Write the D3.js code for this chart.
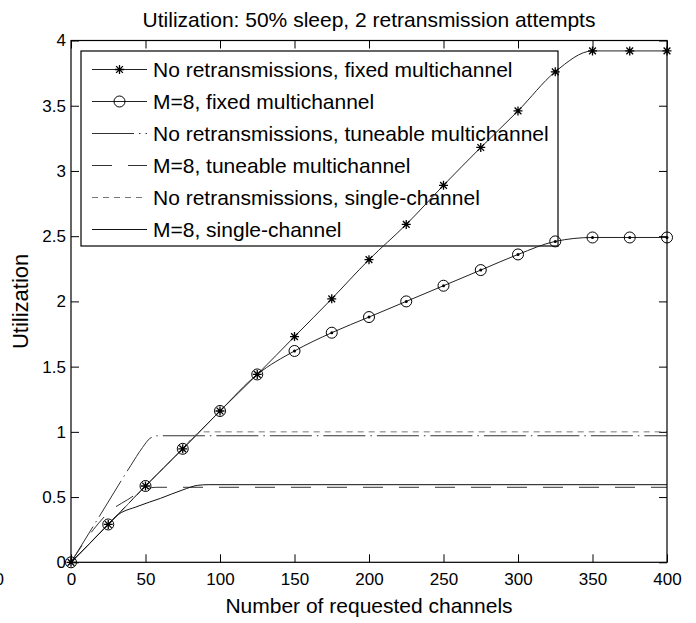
<!DOCTYPE html>
<html>
<head>
<meta charset="utf-8">
<script src="https://cdn.jsdelivr.net/npm/d3@7"></script>
<style>
  body { margin: 0; background: #fff; }
  svg { display: block; font-family: "Liberation Sans", Arial, sans-serif; }
</style>
</head>
<body>
<svg id="chart" width="696" height="623"></svg>
<script>
// marker series, sampled every 25 channels
var markerX = [0, 25, 50, 75, 100, 125, 150, 175, 200, 225, 250, 275, 300, 325, 350, 375, 400];
var noRetFixed = [0, 0.29, 0.585, 0.87, 1.16, 1.44, 1.73, 2.02, 2.32, 2.59, 2.89, 3.18, 3.46, 3.76, 3.92, 3.92, 3.92];
var m8Fixed = [0, 0.29, 0.585, 0.87, 1.16, 1.44, 1.62, 1.76, 1.88, 2.0, 2.12, 2.24, 2.36, 2.46, 2.49, 2.49, 2.49];

// lines without markers
var noRetTuneX = [0, 20, 40, 48, 53, 58, 400];
var noRetTune = [0, 0.37, 0.74, 0.88, 0.95, 0.97, 0.97];
var m8TuneX = [0, 15, 26, 38, 50, 57, 400];
var m8Tune = [0, 0.25, 0.39, 0.48, 0.56, 0.575, 0.575];
var noRetSingleX = [0, 25, 50, 75, 84, 90, 400];
var noRetSingle = [0, 0.29, 0.585, 0.87, 0.98, 1.0, 1.0];
var m8SingleX = [0, 25, 30, 45, 60, 75, 85, 92, 400];
var m8Single = [0, 0.29, 0.35, 0.43, 0.49, 0.555, 0.59, 0.595, 0.595];

var legendLabels = [
  'No retransmissions, fixed multichannel',
  'M=8, fixed multichannel',
  'No retransmissions, tuneable multichannel',
  'M=8, tuneable multichannel',
  'No retransmissions, single-channel',
  'M=8, single-channel'
];
var xTicks = [0, 50, 100, 150, 200, 250, 300, 350, 400];
var yTicks = [0, 0.5, 1, 1.5, 2, 2.5, 3, 3.5, 4];

var svg = d3.select('#chart');
var L = 71, R = 667, T = 40.5, B = 562.3;

var x = d3.scaleLinear().domain([0, 400]).range([L, R]);
var y = d3.scaleLinear().domain([0, 4]).range([B, T]);

function zip(xs, ys) {
  return xs.map(function (v, i) { return [v, ys[i]]; });
}

var styles = [
  {stroke: '#222', dash: null, marker: 'star'},
  {stroke: '#222', dash: null, marker: 'circle'},
  {stroke: '#333', dash: '42,5,1.5,5', marker: null},
  {stroke: '#333', dash: '20,16', marker: null},
  {stroke: '#777', dash: '6,5', marker: null},
  {stroke: '#111', dash: null, marker: null}
];

var series = [
  zip(markerX, noRetFixed),
  zip(markerX, m8Fixed),
  zip(noRetTuneX, noRetTune),
  zip(m8TuneX, m8Tune),
  zip(noRetSingleX, noRetSingle),
  zip(m8SingleX, m8Single)
];

function drawStar(g, cx, cy) {
  var r = 4.5;
  g.append('path')
      .attr('d', 'M' + (cx - r) + ',' + cy + 'H' + (cx + r) +
        'M' + cx + ',' + (cy - r) + 'V' + (cy + r) +
        'M' + (cx - r * 0.75) + ',' + (cy - r * 0.75) + 'L' + (cx + r * 0.75) + ',' + (cy + r * 0.75) +
        'M' + (cx - r * 0.75) + ',' + (cy + r * 0.75) + 'L' + (cx + r * 0.75) + ',' + (cy - r * 0.75))
      .attr('stroke', '#000').attr('stroke-width', 1.3).attr('fill', 'none');
}
function drawCircle(g, cx, cy, dot) {
  g.append('circle').attr('cx', cx).attr('cy', cy).attr('r', 5.5)
      .attr('fill', 'none').attr('stroke', '#000').attr('stroke-width', 1);
  if (dot) {
    g.append('circle').attr('cx', cx).attr('cy', cy).attr('r', 1.5).attr('fill', '#000');
  }
}

// axes (inward ticks on all four sides)
var fontTick = '17px';
var gx = svg.append('g')
    .attr('transform', 'translate(0,' + B + ')')
    .call(d3.axisBottom(x).tickValues(xTicks).tickSize(-8).tickPadding(10.5));
var gy = svg.append('g')
    .attr('transform', 'translate(' + L + ',0)')
    .call(d3.axisLeft(y).tickValues(yTicks).tickSize(-8).tickPadding(5).tickFormat(d3.format('')));
var gt = svg.append('g')
    .attr('transform', 'translate(0,' + T + ')')
    .call(d3.axisTop(x).tickValues(xTicks).tickSize(-8).tickFormat(''));
var gr = svg.append('g')
    .attr('transform', 'translate(' + R + ',0)')
    .call(d3.axisRight(y).tickValues(yTicks).tickSize(-8).tickFormat(''));

[gx, gy, gt, gr].forEach(function (g) {
  g.attr('font-family', null).attr('font-size', null);
  g.select('.domain').remove();
  g.selectAll('.tick line').attr('stroke', '#000').attr('stroke-width', 1);
  g.selectAll('.tick text').attr('fill', '#000').style('font-size', fontTick);
});

// legend (the curves are drawn over it, as in the original)
var lg = svg.append('g');
lg.append('rect')
    .attr('x', 81).attr('y', 51).attr('width', 477).attr('height', 195)
    .attr('fill', '#fff').attr('stroke', '#000').attr('stroke-width', 1.2);
var rowY = d3.scalePoint().domain(legendLabels).range([69.5, 229.5]);
legendLabels.forEach(function (lab, i) {
  var ry = rowY(lab);
  lg.append('line')
      .attr('x1', 92).attr('x2', 147).attr('y1', ry).attr('y2', ry)
      .attr('stroke', styles[i].stroke).attr('stroke-width', 1)
      .attr('stroke-dasharray', styles[i].dash);
  if (styles[i].marker === 'star') drawStar(lg, 119.5, ry);
  if (styles[i].marker === 'circle') drawCircle(lg, 119.5, ry, false);
  lg.append('text')
      .attr('x', 153).attr('y', ry).attr('dy', '0.36em')
      .style('font-size', '21px')
      .text(lab);
});

// lines
var line = d3.line()
    .x(function (d) { return x(d[0]); })
    .y(function (d) { return y(d[1]); })
    .curve(d3.curveMonotoneX);

series.forEach(function (s, i) {
  svg.append('path')
      .attr('d', line(s))
      .attr('fill', 'none')
      .attr('stroke', styles[i].stroke)
      .attr('stroke-width', 1)
      .attr('stroke-dasharray', styles[i].dash);
});

var marks = svg.append('g');
series[1].forEach(function (d) { drawCircle(marks, x(d[0]), y(d[1]), true); });
series[0].forEach(function (d) { drawStar(marks, x(d[0]), y(d[1])); });

// frame
svg.append('rect')
    .attr('x', L).attr('y', T).attr('width', R - L).attr('height', B - T)
    .attr('fill', 'none').attr('stroke', '#000').attr('stroke-width', 1.2);

// titles
svg.append('text')
    .attr('x', (L + R) / 2).attr('y', 27)
    .attr('text-anchor', 'middle').style('font-size', '21px')
    .text('Utilization: 50% sleep, 2 retransmission attempts');
svg.append('text')
    .attr('x', (L + R) / 2).attr('y', 613)
    .attr('text-anchor', 'middle').style('font-size', '21px')
    .text('Number of requested channels');
svg.append('text')
    .attr('transform', 'translate(28,' + ((T + B) / 2) + ') rotate(-90)')
    .attr('text-anchor', 'middle').style('font-size', '22px')
    .text('Utilization');

// clipped glyph at the left edge of the picture
svg.append('text')
    .attr('x', -5.5).attr('y', 585).style('font-size', fontTick)
    .text('0');
</script>
</body>
</html>
